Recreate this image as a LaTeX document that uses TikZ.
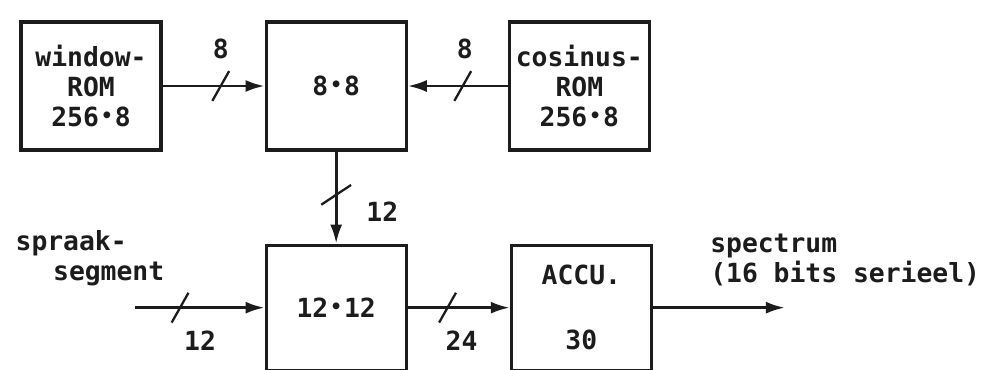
\documentclass[tikz,border=0pt]{standalone}
\usepackage{fontspec}
\setmonofont{DejaVu Sans Mono}
\usetikzlibrary{arrows.meta, positioning, calc}
\definecolor{plotink}{RGB}{28, 28, 28}
\newcommand{\mulpt}{\makebox[0.6em]{\raisebox{0.16em}{\fontsize{11}{11}\selectfont •}}}

\begin{document}
\begin{tikzpicture}[
        box/.style={draw=plotink, line width=1.8pt, minimum width=2.8cm, minimum height=2.56cm,
                    align=center, text=plotink, font=\ttfamily\bfseries\fontsize{15}{17}\selectfont},
        lowbox/.style={box, minimum height=2.5cm},
        lbl/.style={inner sep=0pt, text=plotink, font=\ttfamily\bfseries\fontsize{15}{17}\selectfont},
        arrow/.style={-{Latex[length=0.38cm, width=0.24cm]}, line width=1.6pt, draw=plotink},
        slashh/.style={inner sep=0pt, minimum width=0.28cm, minimum height=0.54cm},
        slashv/.style={slashh, minimum width=0.54cm, minimum height=0.34cm},
        slash/.style={draw=plotink, line width=1.3pt},
        node distance=2cm,
    ]
        \useasboundingbox (0,0) rectangle (19.72,-7.38);

        \node[box] (window) at (1.82,-1.72) {window-\\ROM\\256\mulpt 8};
        \node[box] (mul8) [right=2.04cm of window] {8\mulpt 8};
        \node[box] (cosinus) [right=2cm of mul8] {cosinus-\\ROM\\256\mulpt 8};
        \node[lowbox] (mul12) [below=1.84cm of mul8] {12\mulpt 12};
        \node[lowbox] (accu) [right=2.04cm of mul12] {ACCU.\\[20pt]30};

        \coordinate[left=2.6cm of mul12.west] (in);
        \coordinate[right=2.64cm of accu.east] (out);

        \node[lbl, align=left, above left=0.42cm and -0.6cm of in] (spraak) {spraak-\\\hspace*{0.75cm}segment};
        \node[lbl, align=left, above right=0.43cm and 1.14cm of accu.east] (spectrum) {spectrum\\(16 bits serieel)};

        \draw[arrow] (window) -- node[slashh, pos=0.57] (s1) {} (mul8);
        \draw[arrow] (cosinus) -- node[slashh, pos=0.45] (s2) {} (mul8);
        \draw[arrow] (mul8) -- node[slashv, pos=0.47] (s3) {} (mul12);
        \draw[arrow] (in) -- node[slashh, pos=0.35] (s4) {} (mul12);
        \draw[arrow] (mul12) -- node[slashh, pos=0.39] (s5) {} (accu);
        \draw[arrow] (accu) -- (out);

        % bus width marks
        \foreach \s in {s1, s2, s3, s4, s5}
            \draw[slash] (\s.south west) -- (\s.north east);

        \node[lbl, above=0.23cm of s1] (w8) {8};
        \node[lbl, above=0.23cm of s2, xshift=0.04cm] (c8) {8};
        \node[lbl, right=0.3cm of s3, yshift=-0.34cm] (m12) {12};
        \node[lbl, below=0.17cm of s4, xshift=0.4cm] (i12) {12};
        \node[lbl, below=0.17cm of s5, xshift=0.28cm] (a24) {24};
\end{tikzpicture}
\end{document}
